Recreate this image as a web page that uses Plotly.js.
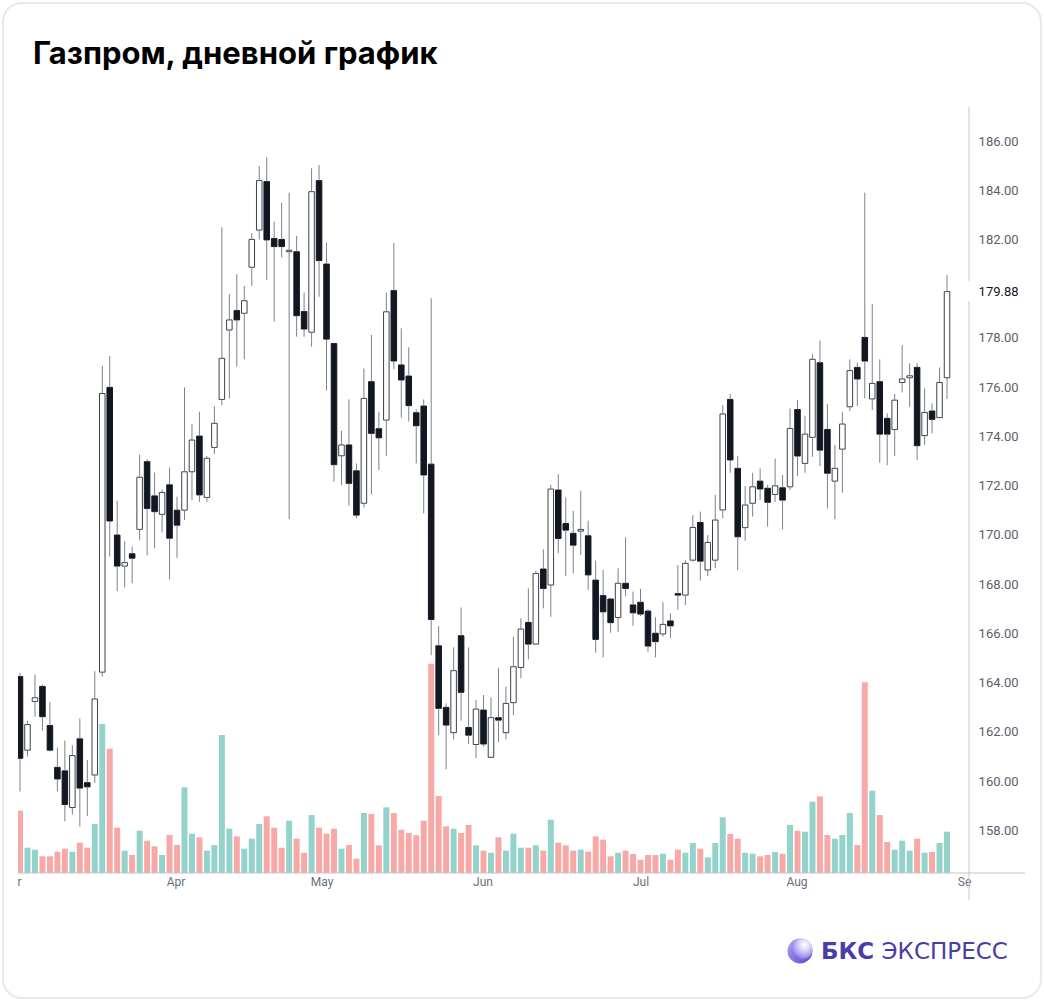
<!DOCTYPE html>
<html>
<head>
<meta charset="utf-8">
<script src="https://cdn.plot.ly/plotly-3.0.1.min.js"></script>
<style>
  html, body { margin: 0; padding: 0; background: #ffffff; }
  #wrap { position: relative; width: 1044px; height: 1001px; }
  #chart { position: absolute; left: 0; top: 0; width: 1044px; height: 1001px; }
  #card { position: absolute; left: 2px; top: 2px; width: 1036px; height: 993px;
          border: 2px solid #e9e9eb; border-radius: 20px; pointer-events: none; }
</style>
</head>
<body>
<div id="wrap">
  <div id="chart"></div>
  <div id="card"></div>
</div>
<script>
// ---- Data: daily candles (trading-day sequence, Mar -> end of Aug) ----
const openPrices = [
  164.24,161.25,163.23,163.84,162.25,160.55,160.41,158.92,161.71,159.93,
  160.24,164.42,175.99,169.99,168.73,169.23,170.22,172.97,171.58,170.83,
  172.03,171.00,171.00,172.56,174.01,171.52,173.55,175.50,178.32,179.11,
  179.00,180.87,182.38,184.35,182.04,182.00,181.50,181.50,179.07,178.23,
  184.39,181.00,177.77,173.21,173.65,172.60,171.28,176.22,174.31,174.66,
  179.92,176.90,176.45,174.96,175.23,172.87,165.49,162.99,161.96,165.90,
  162.17,161.48,162.88,160.96,162.57,161.96,163.18,164.61,166.44,165.56,
  168.61,167.96,171.82,170.46,170.06,170.15,169.96,168.16,167.53,167.39,
  166.64,168.03,167.15,167.26,166.90,166.00,165.97,166.50,167.61,167.55,
  168.97,170.50,168.57,168.97,171.01,175.50,172.70,170.29,171.28,172.18,
  171.89,171.64,171.91,171.95,175.09,172.90,173.96,176.99,174.28,172.18,
  173.48,175.20,176.80,178.02,175.52,176.22,174.73,174.28,176.19,176.38,
  176.80,174.03,175.03,174.76,176.38
];
const highPrices = [
  164.39,162.44,164.32,163.91,163.20,161.35,161.64,161.45,162.54,160.85,
  164.46,176.87,177.26,171.38,169.74,169.52,173.26,173.07,172.53,171.84,
  172.73,171.55,175.99,174.50,175.00,173.20,175.23,182.49,179.78,180.59,
  180.11,182.25,184.98,185.34,182.72,183.49,183.90,182.14,179.84,184.89,
  185.02,181.87,177.80,174.23,175.50,172.90,176.76,178.12,175.00,179.84,
  181.85,178.39,177.62,175.10,175.50,179.61,166.29,163.15,165.43,167.05,
  165.43,163.29,163.49,163.39,164.60,163.83,165.86,166.60,167.82,168.54,
  169.41,172.02,172.46,171.52,170.97,171.79,170.57,168.95,168.57,167.44,
  168.64,169.90,167.69,167.80,166.98,166.65,167.26,166.81,168.77,168.97,
  170.80,170.94,169.99,171.62,175.27,175.72,173.20,171.98,172.52,172.70,
  172.02,173.10,172.43,175.13,175.47,174.84,177.34,177.89,175.31,173.65,
  175.00,177.13,176.99,183.90,179.38,177.13,174.93,175.72,177.71,176.97,
  176.97,175.95,175.34,176.80,180.55
];
const lowPrices = [
  159.57,160.99,162.61,162.04,161.20,159.57,158.36,158.63,158.15,158.57,
  159.93,164.24,169.12,167.71,167.86,168.03,169.78,169.16,169.45,170.10,
  168.19,169.06,170.60,171.41,171.34,171.34,173.28,175.27,175.54,176.83,
  177.13,180.11,182.00,180.35,178.66,181.27,170.63,178.05,178.05,177.64,
  179.67,175.86,172.16,172.02,171.18,170.67,171.11,171.64,172.63,173.21,
  176.73,174.76,174.60,172.90,170.87,165.11,161.86,160.47,161.69,162.45,
  161.50,160.92,161.39,160.96,161.59,161.69,162.68,164.17,164.94,165.56,
  167.01,166.67,169.25,168.33,168.43,169.18,167.76,165.21,165.02,166.02,
  166.06,167.51,166.30,166.70,165.25,165.02,165.86,165.80,166.95,167.15,
  168.91,168.14,168.33,168.64,170.67,172.52,168.57,169.76,170.74,171.41,
  170.33,171.34,170.22,171.82,172.39,172.52,173.17,172.79,171.07,170.63,
  171.71,175.03,175.23,175.54,175.07,172.93,172.83,173.20,175.79,175.20,
  173.04,173.65,174.12,174.76,175.52
];
const closePrices = [
  160.92,162.29,163.38,162.61,161.25,160.08,159.04,161.03,159.71,159.76,
  163.33,175.74,170.56,168.73,168.87,169.05,172.34,171.07,170.94,171.72,
  169.86,170.39,172.56,173.85,171.62,173.11,174.53,177.17,178.73,178.73,
  179.51,182.00,184.39,181.98,181.71,181.71,181.56,178.90,178.36,183.94,
  181.14,177.95,172.85,173.65,172.09,170.80,175.54,174.12,173.94,179.06,
  177.06,176.29,175.25,174.43,172.43,166.56,162.95,162.27,164.48,163.60,
  161.86,162.92,161.50,162.57,162.47,163.15,164.64,166.17,165.56,168.43,
  167.82,171.86,169.85,170.19,169.58,170.22,168.37,165.75,166.87,166.43,
  168.03,167.82,166.83,166.78,165.48,165.66,166.36,166.30,167.55,168.84,
  170.30,168.93,169.69,170.60,174.91,173.04,169.92,171.21,171.95,171.86,
  171.32,171.99,171.41,174.32,173.20,174.09,177.13,173.44,172.50,172.70,
  174.50,176.67,176.33,177.06,176.15,174.09,174.09,175.47,176.33,176.46,
  173.62,174.97,174.69,176.19,179.88
];
// volume (relative units)
const volumes = [
  62.3,25.3,23.3,16.7,16.7,21.3,24.3,21.3,30.3,25.3,
  49,149,124.3,45.3,22.3,18,42.3,32.3,26.7,18,
  38,28,85.7,39.3,35.7,22.3,28,138,44.3,36.7,
  24.3,34.3,49,56.7,45.3,25.3,52.3,34.3,20.3,58,
  45.3,39.3,44.3,24.3,28,14.3,60,59,27.7,65.7,
  60,43.3,40,37.7,52.3,209.3,77,46.7,44.3,40,
  48,27.7,22.3,20.3,35.7,22.3,39.3,25.3,25.3,27.7,
  22.3,53.3,30.3,27.7,22.3,23.3,21.3,36.7,33.3,16.7,
  20.3,22.3,19,13.3,18,18,19.3,13.3,23.3,20.3,
  30,24.3,15.7,30,55.7,39,34.3,20.3,19.3,16.7,
  18,21,19.3,48,42.3,41.3,71.3,76.7,38,34.3,
  38,60,28,190.7,82.3,58,31,23.3,32.3,22.3,
  34.3,20.3,21,30,41.3
];
// x-axis month labels (edge labels clipped as in the source) and their positions (trading-day index)
const monthLabels = ["r", "Apr", "May", "Jun", "Jul", "Aug", "Se"];
const monthPositions = [-0.07, 20.87, 40.4, 61.93, 83.07, 103.93, 126.35];
// right price-scale ticks (the last close replaces the 180 tick)
const priceTicks = [158, 160, 162, 164, 166, 168, 170, 172, 174, 176, 178, 182, 184, 186];

// ---- Build traces ----
const n = openPrices.length;
const idx = openPrices.map((_, i) => i);
const isUp = idx.map(i => closePrices[i] >= openPrices[i]);
const lastClose = closePrices[n - 1];

const X_RANGE = [-0.27, 126.94];
const Y_RANGE = [156.26, 187.38];
const VOL_RANGE = [0, 766];

// wicks: upper and lower segments, not crossing hollow bodies
const wx = [], wy = [];
for (let i = 0; i < n; i++) {
  const top = Math.max(openPrices[i], closePrices[i]);
  const bot = Math.min(openPrices[i], closePrices[i]);
  wx.push(i, i, null, i, i, null);
  wy.push(highPrices[i], top, null, bot, lowPrices[i], null);
}

const volumeTrace = {
  type: 'bar', x: idx, y: volumes, yaxis: 'y', xaxis: 'x',
  width: 0.8,
  marker: { color: idx.map(i => isUp[i] ? '#93d3cc' : '#f7a9a7'), line: { width: 0 } },
  hoverinfo: 'skip'
};
const wickTrace = {
  type: 'scatter', mode: 'lines', x: wx, y: wy, yaxis: 'y2', xaxis: 'x',
  line: { color: '#7d808a', width: 1 }, connectgaps: false, hoverinfo: 'skip'
};
const bodyTrace = {
  type: 'bar', x: idx, yaxis: 'y2', xaxis: 'x',
  base: idx.map(i => Math.min(openPrices[i], closePrices[i])),
  y: idx.map(i => Math.max(Math.abs(closePrices[i] - openPrices[i]), 0.05)),
  width: 0.74,
  marker: {
    color: idx.map(i => isUp[i] ? '#ffffff' : '#131722'),
    line: { color: idx.map(i => isUp[i] ? '#3d404a' : '#131722'), width: 1 }
  },
  hoverinfo: 'skip'
};

// ---- Layout helpers (paper coords) ----
const L = 18, R = 969, T = 107, B = 873;
const pxX = px => (px - L) / (R - L);
const pxY = py => (B - py) / (B - T);
const priceY = p => (p - Y_RANGE[0]) / (Y_RANGE[1] - Y_RANGE[0]);
const axisColor = '#c4c5cb';

const tickVals = priceTicks.concat([lastClose]);
const tickText = priceTicks.map(v => v.toFixed(2))
  .concat(['<span style="color:#131722">' + lastClose.toFixed(2) + '</span>']);

const orbSvg = "<svg xmlns='http://www.w3.org/2000/svg' width='52' height='52' viewBox='0 0 52 52'>" +
  "<defs><radialGradient id='g' cx='62%' cy='30%' r='80%'>" +
  "<stop offset='0' stop-color='#ffffff'/><stop offset='0.35' stop-color='#d9d2fb'/>" +
  "<stop offset='0.75' stop-color='#9c8cec'/><stop offset='1' stop-color='#6650d2'/></radialGradient>" +
  "<linearGradient id='h' x1='0' y1='0' x2='1' y2='1'><stop offset='0' stop-color='#b5a8f3'/><stop offset='1' stop-color='#5b45c9'/></linearGradient></defs>" +
  "<circle cx='26' cy='26' r='25' fill='url(#h)'/>" +
  "<circle cx='30' cy='22' r='21' fill='url(#g)'/></svg>";

const layout = {
  width: 1044, height: 1001,
  margin: { l: L, r: 1044 - R, t: T, b: 1001 - B, pad: 0 },
  paper_bgcolor: 'rgba(0,0,0,0)', plot_bgcolor: 'rgba(0,0,0,0)',
  showlegend: false, barmode: 'overlay',
  title: {
    text: '<b>Газпром, дневной график</b>',
    font: { family: 'Inter, Roboto, sans-serif', size: 31, color: '#000000' },
    xref: 'container', x: 33 / 1044, xanchor: 'left',
    yref: 'container', y: 1 - 53 / 1001, yanchor: 'middle'
  },
  xaxis: {
    range: X_RANGE, showgrid: false, zeroline: false, showline: false,
    tickmode: 'array', tickvals: monthPositions, ticktext: monthLabels,
    ticks: '', tickfont: { family: 'Roboto, sans-serif', size: 12, color: '#6b6e78' },
    fixedrange: true
  },
  yaxis: { range: VOL_RANGE, visible: false, fixedrange: true },
  yaxis2: {
    overlaying: 'y', side: 'right', range: Y_RANGE,
    showgrid: false, zeroline: false, showline: false,
    tickmode: 'array', tickvals: tickVals, ticktext: tickText,
    ticks: 'outside', ticklen: 6, tickcolor: 'rgba(0,0,0,0)',
    tickfont: { family: 'Roboto, sans-serif', size: 13, color: '#5d606b' },
    fixedrange: true
  },
  shapes: [
    { type: 'line', xref: 'paper', yref: 'paper', x0: 1, x1: 1,
      y0: 1, y1: priceY(lastClose + 0.42), line: { color: axisColor, width: 1 } },
    { type: 'line', xref: 'paper', yref: 'paper', x0: 1, x1: 1,
      y0: priceY(lastClose - 0.4), y1: pxY(900), line: { color: axisColor, width: 1 } },
    { type: 'line', xref: 'paper', yref: 'paper', x0: 0, x1: pxX(1025),
      y0: 0, y1: 0, line: { color: axisColor, width: 1 } }
  ],
  images: [{
    source: 'data:image/svg+xml;charset=utf-8,' + encodeURIComponent(orbSvg),
    xref: 'paper', yref: 'paper', x: pxX(787), y: pxY(938),
    sizex: 26 / (R - L), sizey: 26 / (B - T), xanchor: 'left', yanchor: 'top',
    sizing: 'stretch', layer: 'above'
  }],
  annotations: [{
    text: '<b>БКС</b> ЭКСПРЕСС', showarrow: false,
    xref: 'paper', yref: 'paper', x: pxX(819), y: pxY(951),
    xanchor: 'left', yanchor: 'middle',
    font: { family: 'DejaVu Sans, sans-serif', size: 23, color: '#4b3ca6' }
  }]
};

Plotly.newPlot('chart', [volumeTrace, wickTrace, bodyTrace], layout,
  { displayModeBar: false, staticPlot: true });
</script>
</body>
</html>
